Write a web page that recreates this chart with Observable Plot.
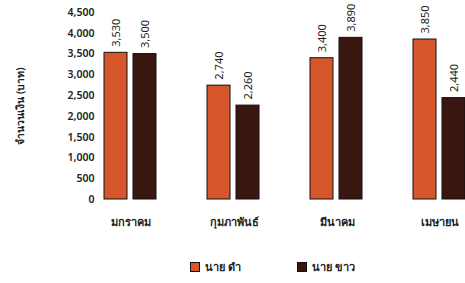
<!DOCTYPE html>
<html>
<head>
<meta charset="utf-8">
<script src="https://cdn.jsdelivr.net/npm/d3@7"></script>
<script src="https://cdn.jsdelivr.net/npm/@observablehq/plot@0.6"></script>
<style>
  body { margin: 0; background: #fff; font-family: "Noto Sans", "Open Sans", sans-serif; }
  #wrap { width: 465px; height: 283px; overflow: hidden; }
  .legend { position: relative; height: 43px; font-size: 11px; color: #222; font-weight: 600; }
  .legend .item { position: absolute; top: 18px; display: flex; align-items: center; gap: 5px; }
  .legend .sw { width: 8px; height: 8px; border: 1px solid #111; }
</style>
</head>
<body>
<div id="wrap"></div>
<script>
const months = ["มกราคม", "กุมภาพันธ์", "มีนาคม", "เมษายน"];
const seriesNames = ["นาย ดำ", "นาย ขาว"];
const damValues = [3530, 2740, 3400, 3850];
const khaoValues = [3500, 2260, 3890, 2440];
const yTicks = [0, 500, 1000, 1500, 2000, 2500, 3000, 3500, 4000, 4500];
const colors = ["#d6562b", "#3a1610"];
const yLabel = "จำนวนเงิน (บาท)";

const data = [];
months.forEach((m, i) => {
  data.push({month: m, series: seriesNames[0], value: damValues[i]});
  data.push({month: m, series: seriesNames[1], value: khaoValues[i]});
});
const fmt = d3.format(",");

const chart = Plot.plot({
  width: 465,
  height: 240,
  marginTop: 12,
  marginBottom: 41,
  marginLeft: 68,
  marginRight: -38,
  style: {fontFamily: "\"Noto Sans\", \"Open Sans\", sans-serif", fontSize: "10.5px", color: "#222", background: "#fff"},
  fx: {domain: months, paddingInner: 0.482, paddingOuter: 0.336, label: null, axis: null},
  x: {domain: seriesNames, axis: null, paddingInner: 0.2, paddingOuter: 0},
  y: {domain: [0, 4500], axis: null},
  color: {domain: seriesNames, range: colors},
  marks: [
    Plot.axisY({ticks: yTicks, tickFormat: fmt, tickSize: 0, tickPadding: 10, label: yLabel, labelAnchor: "center", labelOffset: 88, labelArrow: "none", fontWeight: 600}),
    Plot.axisFx({anchor: "bottom", label: null, tickSize: 0, tickPadding: 19, fontSize: 11, fontWeight: 600}),
    Plot.barY(data, {fx: "month", x: "series", y: "value", fill: "series", stroke: "#111", strokeWidth: 1}),
    Plot.text(data, {fx: "month", x: "series", y: "value", text: d => fmt(d.value), rotate: -90, textAnchor: "start", dy: -6, fontSize: 11, fill: "#222"})
  ]
});
document.getElementById("wrap").appendChild(chart);

const legend = document.createElement("div");
legend.className = "legend";
const lefts = [190, 297];
seriesNames.forEach((s, i) => {
  const it = document.createElement("div");
  it.className = "item";
  it.style.left = lefts[i] + "px";
  const sw = document.createElement("span");
  sw.className = "sw";
  sw.style.background = colors[i];
  const tx = document.createElement("span");
  tx.textContent = s;
  it.appendChild(sw);
  it.appendChild(tx);
  legend.appendChild(it);
});
document.getElementById("wrap").appendChild(legend);
</script>
</body>
</html>
